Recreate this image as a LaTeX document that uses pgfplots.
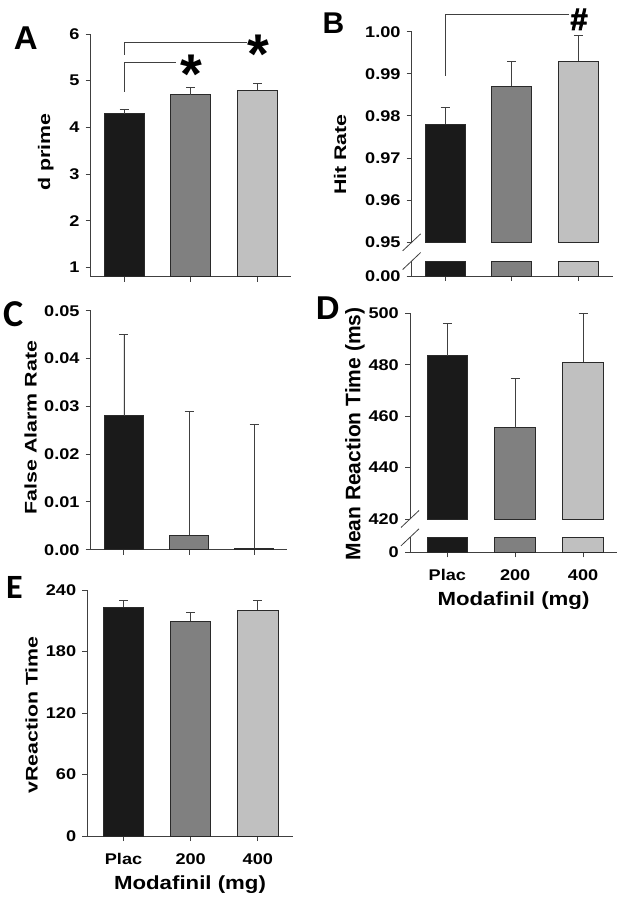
\documentclass[border=0pt]{standalone}
\usepackage{fontspec}
\setmainfont{Liberation Sans}[FakeStretch=1.17]
\newfontfamily\ylfont{Liberation Sans}[FakeStretch=1.27]
\newfontfamily\plainfont{Liberation Sans}
\newfontfamily\hashfont{Liberation Sans}[FakeBold=2.5]
\newfontfamily\calfont{Carlito}
\usepackage{pgfplots}
\pgfplotsset{compat=1.18}
\definecolor{c1}{HTML}{1A1A1A}
\definecolor{c2}{HTML}{808080}
\definecolor{c3}{HTML}{C0C0C0}
\definecolor{edge}{HTML}{2A2A2A}
\definecolor{axc}{HTML}{404040}
\pgfplotsset{
 panel/.style={
  scale only axis, anchor=south west,
  axis x line=bottom, axis y line=left,
  axis line style={draw=axc, line width=0.9pt, -},
  tick align=outside, major tick length=5pt,
  tick style={draw=axc, line width=0.9pt},
  xtick={0,1,2}, xticklabels={},
  tick label style={font=\bfseries\fontsize{15.5}{15.5}\selectfont, text=black},
  /pgf/number format/assume math mode=true,
  yticklabel style={anchor=east, inner sep=0pt, xshift=-6pt},
  xticklabel style={anchor=north, inner sep=0pt, yshift=-12pt},
  scaled y ticks=false,
  xlabel style={font=\bfseries\fontsize{19}{19}\selectfont, at={(axis description cs:0.5,0)}, anchor=base, yshift=-53pt},
 },
 twodec/.style={yticklabel style={/pgf/number format/fixed, /pgf/number format/fixed zerofill, /pgf/number format/precision=2}},
 bars/.style={ybar, bar width=0.6, bar shift=0pt, draw=edge, line width=0.8pt},
 box/.style={draw=edge, line width=0.8pt},
 errs/.style={error bars/.cd, y dir=plus, y explicit, error bar style={draw=axc, line width=0.8pt}, error mark options={rotate=90, draw=axc, line width=0.9pt, mark size=4.5pt}},
}
\begin{document}
\begin{tikzpicture}
\path[use as bounding box] (0pt,0pt) rectangle (622pt,900pt);
% ---------- A ----------
\begin{axis}[panel, at={(90.7pt,623.3pt)}, width=200.3pt, height=242.7pt,
  xmin=-0.5, xmax=2.5, ymin=0.8, ymax=6, ytick={1,2,3,4,5,6}]
\addplot[bars, fill=c1, errs] coordinates {(0,4.29) +- (0,0.10)};
\addplot[bars, fill=c2, errs] coordinates {(1,4.70) +- (0,0.16)};
\addplot[bars, fill=c3, errs] coordinates {(2,4.79) +- (0,0.15)};
\draw[axc, line width=0.8pt] (axis cs:0,5.56) -- (axis cs:0,5.81) -- (axis cs:1.84,5.81);
\draw[axc, line width=0.8pt] (axis cs:0,4.76) -- (axis cs:0,5.40) -- (axis cs:0.775,5.40);
\end{axis}
% ---------- B upper ----------
\begin{axis}[panel, twodec, at={(411.7pt,657.7pt)}, width=201pt, height=210.6pt,
  axis x line=none, clip=false,
  xmin=-0.5, xmax=2.515, ymin=0.95, ymax=1.0, ytick={0.95,0.96,0.97,0.98,0.99,1.00}]
\addplot[box, fill=c1] coordinates {(-0.3,0.95) (-0.3,0.978) (0.3,0.978) (0.3,0.95)} -- cycle;
\addplot[box, fill=c2] coordinates {(0.7,0.95) (0.7,0.987) (1.3,0.987) (1.3,0.95)} -- cycle;
\addplot[box, fill=c3] coordinates {(1.7,0.95) (1.7,0.993) (2.3,0.993) (2.3,0.95)} -- cycle;
\addplot[draw=axc, mark=none, errs] coordinates {(0,0.978) +- (0,0.004)};
\addplot[draw=axc, mark=none, errs] coordinates {(1,0.987) +- (0,0.006)};
\addplot[draw=axc, mark=none, errs] coordinates {(2,0.993) +- (0,0.006)};
\draw[axc, line width=0.8pt] (axis cs:0,0.9895) -- (axis cs:0,1.004) -- (axis cs:1.86,1.004);
\draw[axc, line width=0.8pt] (rel axis cs:0,0) ++(-9pt,-8.5pt) -- ++(18pt,17pt);
\end{axis}
% ---------- B lower ----------
\begin{axis}[panel, at={(411.7pt,624pt)}, width=201pt, height=15pt, clip=false,
  xmin=-0.5, xmax=2.515, ymin=0, ymax=1, ytick={0}, yticklabels={0.00}]
\addplot[bars, fill=c1] coordinates {(0,1)};
\addplot[bars, fill=c2] coordinates {(1,1)};
\addplot[bars, fill=c3] coordinates {(2,1)};
\draw[axc, line width=0.8pt] (rel axis cs:0,1) ++(-9pt,-8.5pt) -- ++(18pt,17pt);
\end{axis}
% ---------- C ----------
\begin{axis}[panel, twodec, at={(90.7pt,350.3pt)}, width=196pt, height=239pt, clip=false,
  xmin=-0.51, xmax=2.5, ymin=0, ymax=0.05, ytick={0,0.01,0.02,0.03,0.04,0.05}]
\addplot[bars, fill=c1, errs] coordinates {(0,0.028) +- (0,0.017)};
\addplot[bars, fill=c2, errs] coordinates {(1,0.003) +- (0,0.026)};
\addplot[bars, fill=c3, errs] coordinates {(2,0.0003) +- (0,0.0259)};
\end{axis}
% ---------- D upper ----------
\begin{axis}[panel, at={(410pt,381pt)}, width=207pt, height=205.7pt,
  axis x line=none, clip=false,
  xmin=-0.55, xmax=2.5, ymin=420, ymax=500, ytick={420,440,460,480,500}]
\addplot[box, fill=c1] coordinates {(-0.3,420) (-0.3,483.5) (0.3,483.5) (0.3,420)} -- cycle;
\addplot[box, fill=c2] coordinates {(0.7,420) (0.7,455.5) (1.3,455.5) (1.3,420)} -- cycle;
\addplot[box, fill=c3] coordinates {(1.7,420) (1.7,481) (2.3,481) (2.3,420)} -- cycle;
\addplot[draw=axc, mark=none, errs] coordinates {(0,483.5) +- (0,12.5)};
\addplot[draw=axc, mark=none, errs] coordinates {(1,455.5) +- (0,19)};
\addplot[draw=axc, mark=none, errs] coordinates {(2,481) +- (0,19)};
\draw[axc, line width=0.8pt] (rel axis cs:0,0) ++(-9pt,-8.5pt) -- ++(18pt,17pt);
\end{axis}
% ---------- D lower ----------
\begin{axis}[panel, at={(410pt,347.7pt)}, width=207pt, height=15pt, clip=false,
  xmin=-0.55, xmax=2.5, ymin=0, ymax=1, ytick={0}, yticklabels={0},
  xticklabels={Plac,200,400}, xlabel={Modafinil (mg)}]
\addplot[bars, fill=c1] coordinates {(0,1)};
\addplot[bars, fill=c2] coordinates {(1,1)};
\addplot[bars, fill=c3] coordinates {(2,1)};
\draw[axc, line width=0.8pt] (rel axis cs:0,1) ++(-9pt,-8.5pt) -- ++(18pt,17pt);
\end{axis}
% ---------- E ----------
\begin{axis}[panel, at={(87.3pt,64pt)}, width=205.4pt, height=246pt, clip=false,
  xmin=-0.54, xmax=2.52, ymin=0, ymax=240, ytick={0,60,120,180,240},
  xticklabels={Plac,200,400}, xlabel={Modafinil (mg)}]
\addplot[bars, fill=c1, errs] coordinates {(0,223.4) +- (0,6)};
\addplot[bars, fill=c2, errs] coordinates {(1,209.8) +- (0,8.7)};
\addplot[bars, fill=c3, errs] coordinates {(2,220.5) +- (0,9.1)};
\end{axis}
% ---------- y labels ----------
\node[rotate=90, anchor=base, font=\ylfont\bfseries\fontsize{16.8}{16.8}\selectfont] at (50.1pt,748.2pt) {d prime};
\node[rotate=90, anchor=base, font=\ylfont\bfseries\fontsize{16.8}{16.8}\selectfont] at (346pt,745.3pt) {Hit Rate};
\node[rotate=90, anchor=base, font=\ylfont\bfseries\fontsize{16.8}{16.8}\selectfont] at (36.7pt,472.5pt) {False Alarm Rate};
\node[rotate=90, anchor=base, font=\plainfont\bfseries\fontsize{21}{21}\selectfont] at (360.3pt,466pt) {Mean Reaction Time (ms)};
\node[rotate=90, anchor=base, font=\ylfont\bfseries\fontsize{16.8}{16.8}\selectfont] at (37.7pt,185pt) {vReaction Time};
% ---------- panel letters ----------
\node[anchor=base, font=\plainfont\bfseries\fontsize{33}{33}\selectfont] at (25.8pt,850.7pt) {A};
\node[anchor=base, font=\plainfont\bfseries\fontsize{30}{30}\selectfont] at (333.5pt,866.7pt) {B};
\node[anchor=base, font=\calfont\bfseries\fontsize{38}{38}\selectfont] at (13.7pt,573.2pt) {C};
\node[anchor=base, font=\plainfont\bfseries\fontsize{33}{33}\selectfont] at (327.7pt,580pt) {D};
\node[anchor=base, font=\calfont\bfseries\fontsize{34}{34}\selectfont] at (14.3pt,301.7pt) {E};
% ---------- significance marks ----------
\node[anchor=base, font=\plainfont\bfseries\fontsize{56}{56}\selectfont] at (258pt,826pt) {*};
\node[anchor=base, font=\plainfont\bfseries\fontsize{56}{56}\selectfont] at (191.7pt,806pt) {*};
\node[anchor=base, font=\hashfont\bfseries\fontsize{31}{31}\selectfont] at (579pt,870pt) {\#};
\end{tikzpicture}
\end{document}
